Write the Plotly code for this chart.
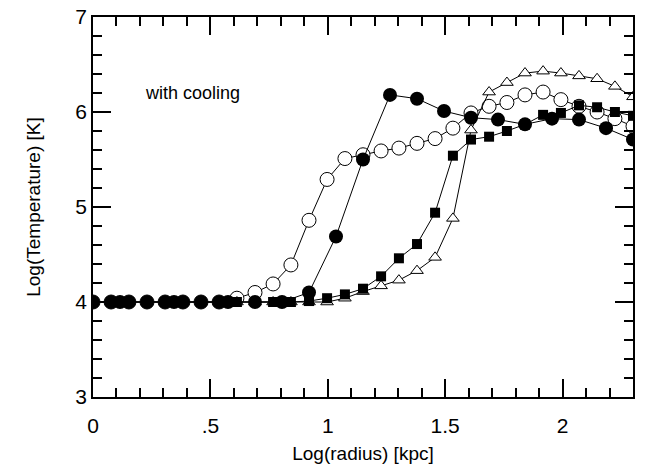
import plotly.graph_objects as go

# Radius grid (log kpc) for open circles, squares, triangles
x_grid = [0.0, 0.077, 0.153, 0.23, 0.307, 0.383, 0.46, 0.537, 0.613, 0.69,
          0.767, 0.843, 0.92, 0.997, 1.073, 1.15, 1.227, 1.303, 1.38, 1.457,
          1.533, 1.61, 1.687, 1.763, 1.84, 1.917, 1.993, 2.07, 2.147, 2.223, 2.30]

open_circle_T = [4.0, 4.0, 4.0, 4.0, 4.0, 4.0, 4.0, 4.0, 4.04, 4.10,
                 4.19, 4.39, 4.86, 5.29, 5.51, 5.55, 5.59, 5.62, 5.67, 5.72,
                 5.83, 5.99, 6.06, 6.10, 6.18, 6.21, 6.13, 6.06, 6.00, 5.93, 5.85]

square_T = [4.0, 4.0, 4.0, 4.0, 4.0, 4.0, 4.0, 4.0, 4.0, 4.0,
            4.0, 4.0, 4.01, 4.04, 4.08, 4.14, 4.27, 4.46, 4.61, 4.94,
            5.54, 5.71, 5.74, 5.80, 5.87, 5.97, 5.99, 6.07, 6.05, 6.00, 5.96]

triangle_T = [4.0, 4.0, 4.0, 4.0, 4.0, 4.0, 4.0, 4.0, 4.0, 4.0,
              4.0, 4.0, 4.0, 4.0, 4.04, 4.11, 4.17, 4.23, 4.33, 4.47,
              4.88, 5.81, 6.21, 6.31, 6.41, 6.43, 6.41, 6.38, 6.35, 6.27, 6.16]

# Filled circles
x_filled = [0.0, 0.077, 0.115, 0.153, 0.23, 0.307, 0.345, 0.383, 0.46, 0.537,
            0.575, 0.69, 0.805, 0.92, 1.035, 1.15, 1.265, 1.38, 1.495, 1.61,
            1.725, 1.84, 1.955, 2.07, 2.185, 2.30]
filled_T = [4.0, 4.0, 4.0, 4.0, 4.0, 4.0, 4.0, 4.0, 4.0, 4.0,
            4.0, 4.0, 4.0, 4.10, 4.69, 5.50, 6.18, 6.14, 6.01, 5.94,
            5.92, 5.87, 5.93, 5.92, 5.83, 5.71]

x_ticks = [0, 0.5, 1, 1.5, 2]
x_tick_labels = ["0", ".5", "1", "1.5", "2"]
y_ticks = [3, 4, 5, 6, 7]
x_range = [0, 2.3]
y_range = [3, 7]

FONT = "Liberation Sans, Arial, Helvetica, sans-serif"
line = dict(color="black", width=1)

fig = go.Figure()
fig.add_trace(go.Scatter(x=x_grid, y=open_circle_T, mode="lines+markers", line=line,
                         marker=dict(symbol="circle", size=14, color="white",
                                     line=dict(color="black", width=1))))
fig.add_trace(go.Scatter(x=x_grid, y=triangle_T, mode="lines+markers", line=line,
                         marker=dict(symbol="triangle-up", size=11, color="white",
                                     line=dict(color="black", width=1))))
fig.add_trace(go.Scatter(x=x_grid, y=square_T, mode="lines+markers", line=line,
                         marker=dict(symbol="square", size=10, color="black",
                                     line=dict(color="black", width=0))))
fig.add_trace(go.Scatter(x=x_filled, y=filled_T, mode="lines+markers", line=line,
                         marker=dict(symbol="circle", size=14, color="black",
                                     line=dict(color="black", width=0))))

tick_font = dict(family=FONT, size=21, color="black")
title_font = dict(family=FONT, size=19, color="black")

fig.update_layout(
    template="none",
    width=649, height=464, showlegend=False,
    plot_bgcolor="white", paper_bgcolor="white",
    margin=dict(l=93, r=16, t=17, b=67),
    xaxis=dict(range=x_range, tickmode="array", tickvals=x_ticks, ticktext=x_tick_labels,
               showline=True, linecolor="black", linewidth=1.5, mirror="ticks",
               ticks="inside", ticklen=18, tickwidth=2, tickcolor="black",
               showgrid=False, zeroline=False, tickfont=tick_font,
               automargin=False, ticklabelstandoff=9,
               title=dict(text="Log(radius) [kpc]", font=title_font, standoff=14),
               minor=dict(dtick=0.1, tick0=0, ticks="inside", ticklen=9,
                          tickwidth=2, tickcolor="black", showgrid=False)),
    yaxis=dict(range=y_range, tickmode="array", tickvals=y_ticks,
               showline=True, linecolor="black", linewidth=1.5, mirror="ticks",
               ticks="inside", ticklen=18, tickwidth=2, tickcolor="black",
               showgrid=False, zeroline=False, tickfont=tick_font,
               automargin=False,
               title=dict(text="Log(Temperature) [K]", font=title_font, standoff=30),
               minor=dict(dtick=0.2, tick0=3, ticks="inside", ticklen=9,
                          tickwidth=2, tickcolor="black", showgrid=False)),
)

fig.add_annotation(x=0.211, y=6.2, xref="x", yref="y", text="with cooling",
                   showarrow=False, xanchor="left", yanchor="middle",
                   font=dict(family=FONT, size=18, color="black"))

fig.write_html("out.html")
